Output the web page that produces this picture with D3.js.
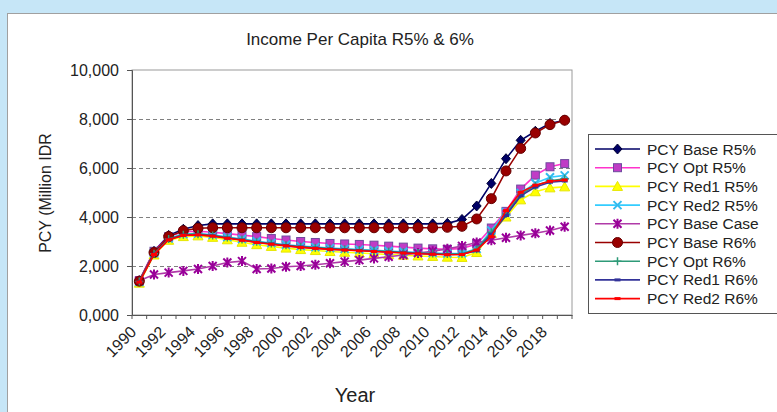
<!DOCTYPE html>
<html>
<head>
<meta charset="utf-8">
<script src="https://cdn.jsdelivr.net/npm/d3@7"></script>
<style>
  html, body { margin: 0; padding: 0; background: #c6e6f7; }
  svg { display: block; font-family: "Liberation Sans", Arial, sans-serif; }
</style>
</head>
<body>
<svg id="chart" width="777" height="412"></svg>
<script>
// Income per capita scenarios, 1990–2019
const years = [1990,1991,1992,1993,1994,1995,1996,1997,1998,1999,
               2000,2001,2002,2003,2004,2005,2006,2007,2008,2009,
               2010,2011,2012,2013,2014,2015,2016,2017,2018,2019];

const pcyBaseR5  = [1400,2600,3250,3500,3650,3720,3720,3720,3720,3720,3720,3720,3720,3720,3720,3720,3720,3720,3720,3720,3720,3740,3900,4450,5370,6380,7130,7500,7820,7950];
const pcyOptR5   = [1400,2600,3200,3400,3420,3380,3320,3260,3200,3120,3060,3000,2960,2920,2900,2880,2850,2810,2770,2730,2700,2680,2720,2900,3550,4230,5140,5710,6050,6180];
const pcyRed1R5  = [1300,2450,3050,3200,3230,3170,3070,2970,2870,2800,2730,2670,2630,2590,2560,2530,2500,2470,2440,2410,2390,2360,2350,2550,3330,4000,4700,5030,5190,5230];
const pcyRed2R5  = [1350,2520,3120,3300,3320,3270,3180,3100,3010,2940,2870,2810,2770,2730,2700,2670,2640,2610,2580,2550,2530,2510,2520,2700,3450,4200,4980,5380,5620,5700];
const pcyBaseCase= [1400,1650,1730,1800,1880,2000,2140,2200,1880,1900,1970,2000,2050,2110,2180,2240,2310,2380,2450,2530,2600,2700,2820,2960,3050,3150,3250,3340,3450,3600];
const pcyBaseR6  = [1380,2550,3200,3440,3540,3560,3560,3560,3560,3560,3560,3560,3560,3560,3560,3560,3560,3560,3560,3560,3560,3580,3620,3920,4750,5880,6800,7430,7770,7950];
const pcyOptR6   = [1370,2500,3100,3280,3300,3250,3160,3080,2990,2920,2850,2790,2750,2710,2680,2650,2620,2590,2560,2530,2510,2490,2500,2680,3380,4120,4920,5280,5480,5560];
const pcyRed1R6  = [1350,2480,3080,3260,3280,3230,3140,3060,2970,2900,2830,2770,2730,2690,2660,2630,2600,2570,2540,2510,2490,2470,2480,2620,3300,4060,4860,5220,5420,5470];
const pcyRed2R6  = [1340,2470,3070,3250,3270,3220,3130,3050,2960,2890,2820,2760,2720,2680,2650,2620,2590,2560,2530,2500,2480,2460,2470,2650,3200,4260,5010,5300,5460,5510];

const seriesNames = ["PCY Base R5%","PCY Opt R5%","PCY Red1 R5%","PCY Red2 R5%","PCY Base Case",
                     "PCY Base R6%","PCY Opt R6%","PCY Red1 R6%","PCY Red2 R6%"];
const seriesValues = [pcyBaseR5, pcyOptR5, pcyRed1R5, pcyRed2R5, pcyBaseCase,
                      pcyBaseR6, pcyOptR6, pcyRed1R6, pcyRed2R6];

const yTickValues = [0,2000,4000,6000,8000,10000];
const yTickLabels = ["0,000","2,000","4,000","6,000","8,000","10,000"];

const titleText = "Income Per Capita R5% & 6%";
const yTitleText = "PCY (Million IDR";
const xTitleText = "Year";

// visual style per series: line colour, marker shape, marker fill / stroke
const styles = [
  {line:"#000066", shape:"diamond",  fill:"#000066", stroke:"#000033"},
  {line:"#ff33cc", shape:"square",   fill:"#c03cc6", stroke:"#6f4a9e"},
  {line:"#ffff00", shape:"triangle", fill:"#ffff00", stroke:"#e6e600"},
  {line:"#33ccff", shape:"x",        fill:"none",    stroke:"#33bbee"},
  {line:"#b03aa8", shape:"star",     fill:"none",    stroke:"#990099"},
  {line:"#990000", shape:"circle",   fill:"#990000", stroke:"#660000"},
  {line:"#2e9a78", shape:"plus",     fill:"none",    stroke:"#2e9a78"},
  {line:"#333399", shape:"dash",     fill:"none",    stroke:"#333399"},
  {line:"#ff0000", shape:"dash",     fill:"none",    stroke:"#ff0000"}
];

const svg = d3.select("#chart");

// chart panel
svg.append("rect")
  .attr("x", 7.5).attr("y", 13.5).attr("width", 790).attr("height", 420)
  .attr("fill", "#ffffff").attr("stroke", "#a0a0a0");

const plot = {left: 132, right: 572, top: 70, bottom: 315};

const x = d3.scaleBand().domain(years).range([plot.left, plot.right]).padding(0);
const y = d3.scaleLinear().domain([0, 10000]).range([plot.bottom, plot.top]);
const cx = d => x(d) + x.bandwidth() / 2;

// plot area frame
svg.append("rect")
  .attr("x", plot.left).attr("y", plot.top)
  .attr("width", plot.right - plot.left).attr("height", plot.bottom - plot.top)
  .attr("fill", "none").attr("stroke", "#9a9a9a").attr("stroke-width", 1);

// dashed gridlines
svg.append("g").selectAll("line")
  .data(yTickValues.filter(v => v > 0 && v < 10000))
  .join("line")
  .attr("x1", plot.left).attr("x2", plot.right)
  .attr("y1", d => Math.round(y(d)) + 0.5).attr("y2", d => Math.round(y(d)) + 0.5)
  .attr("stroke", "#808080").attr("stroke-dasharray", "4,3");

// y axis
const yAxis = svg.append("g")
  .attr("transform", `translate(${plot.left},0)`)
  .call(d3.axisLeft(y).tickValues(yTickValues)
        .tickFormat((d, i) => yTickLabels[i]).tickSize(5).tickPadding(8));
yAxis.select(".domain").attr("stroke", "#555");
yAxis.selectAll(".tick line").attr("stroke", "#555");
yAxis.selectAll("text").attr("font-size", 16).attr("fill", "#222")
  .attr("font-family", "Liberation Sans, Arial, sans-serif");

// x axis: ticks at category boundaries, labels every other year
const xAxis = svg.append("g")
  .attr("transform", `translate(0,${plot.bottom})`)
  .call(d3.axisBottom(x).tickSize(0).tickFormat(d => d % 2 === 0 ? d : ""));
xAxis.select(".domain").attr("stroke", "#555");
xAxis.selectAll("text")
  .attr("font-size", 16).attr("fill", "#222")
  .attr("font-family", "Liberation Sans, Arial, sans-serif")
  .attr("text-anchor", "end")
  .attr("dy", null).attr("y", 0)
  .attr("transform", "translate(-2,18) rotate(-45)");
svg.append("g").selectAll("line")
  .data(years.concat([null]))
  .join("line")
  .attr("x1", (d, i) => plot.left + i * x.bandwidth())
  .attr("x2", (d, i) => plot.left + i * x.bandwidth())
  .attr("y1", plot.bottom).attr("y2", plot.bottom + 4)
  .attr("stroke", "#555");

// titles
svg.append("text").attr("x", 360).attr("y", 45)
  .attr("text-anchor", "middle").attr("font-size", 17).attr("fill", "#222")
  .text(titleText);
svg.append("text").attr("x", 355).attr("y", 402)
  .attr("text-anchor", "middle").attr("font-size", 20).attr("fill", "#222")
  .text(xTitleText);
svg.append("text")
  .attr("transform", "translate(51,193) rotate(-90)")
  .attr("text-anchor", "middle").attr("font-size", 16).attr("fill", "#222")
  .text(yTitleText);

// marker drawing
function drawMarker(g, shape, st, px, py) {
  const s = 4.5;
  if (shape === "diamond") {
    g.append("path").attr("d", `M${px},${py-s-0.5}L${px+s},${py}L${px},${py+s+0.5}L${px-s},${py}Z`)
      .attr("fill", st.fill).attr("stroke", st.stroke);
  } else if (shape === "square") {
    g.append("rect").attr("x", px-4).attr("y", py-4).attr("width", 8).attr("height", 8)
      .attr("fill", st.fill).attr("stroke", st.stroke);
  } else if (shape === "triangle") {
    g.append("path").attr("d", `M${px},${py-5}L${px+5},${py+4}L${px-5},${py+4}Z`)
      .attr("fill", st.fill).attr("stroke", st.stroke);
  } else if (shape === "x") {
    g.append("path").attr("d", `M${px-4},${py-4}L${px+4},${py+4}M${px-4},${py+4}L${px+4},${py-4}`)
      .attr("stroke", st.stroke).attr("stroke-width", 2);
  } else if (shape === "star") {
    g.append("path").attr("d", `M${px-4},${py-4}L${px+4},${py+4}M${px-4},${py+4}L${px+4},${py-4}M${px},${py-5}L${px},${py+5}`)
      .attr("stroke", st.stroke).attr("stroke-width", 2);
  } else if (shape === "circle") {
    g.append("circle").attr("cx", px).attr("cy", py).attr("r", 5)
      .attr("fill", st.fill).attr("stroke", st.stroke);
  } else if (shape === "plus") {
    g.append("path").attr("d", `M${px-4},${py}L${px+4},${py}M${px},${py-4}L${px},${py+4}`)
      .attr("stroke", st.stroke).attr("stroke-width", 1.5);
  } else if (shape === "dash") {
    g.append("path").attr("d", `M${px-3},${py}L${px+3},${py}`)
      .attr("stroke", st.stroke).attr("stroke-width", 3);
  }
}

// series lines and markers
const lineGen = d3.line().x(d => cx(d.year)).y(d => y(d.value));
seriesValues.forEach((vals, si) => {
  const st = styles[si];
  const pts = years.map((yr, i) => ({year: yr, value: vals[i]}));
  const g = svg.append("g");
  g.append("path").datum(pts).attr("d", lineGen)
    .attr("fill", "none").attr("stroke", st.line).attr("stroke-width", 1.6);
  pts.forEach(p => drawMarker(g, st.shape, st, cx(p.year), y(p.value)));
});

// legend
const legend = svg.append("g");
legend.append("rect").attr("x", 588.5).attr("y", 134.5).attr("width", 200).attr("height", 179)
  .attr("fill", "#fff").attr("stroke", "#555");
seriesNames.forEach((name, i) => {
  const ly = 149 + i * 18.7;
  const st = styles[i];
  legend.append("line").attr("x1", 595).attr("x2", 640).attr("y1", ly).attr("y2", ly)
    .attr("stroke", st.line).attr("stroke-width", 1.6);
  drawMarker(legend, st.shape, st, 617.5, ly);
  legend.append("text").attr("x", 647).attr("y", ly).attr("dy", "0.36em")
    .attr("font-size", 15.5).attr("fill", "#222").text(name);
});
</script>
</body>
</html>
